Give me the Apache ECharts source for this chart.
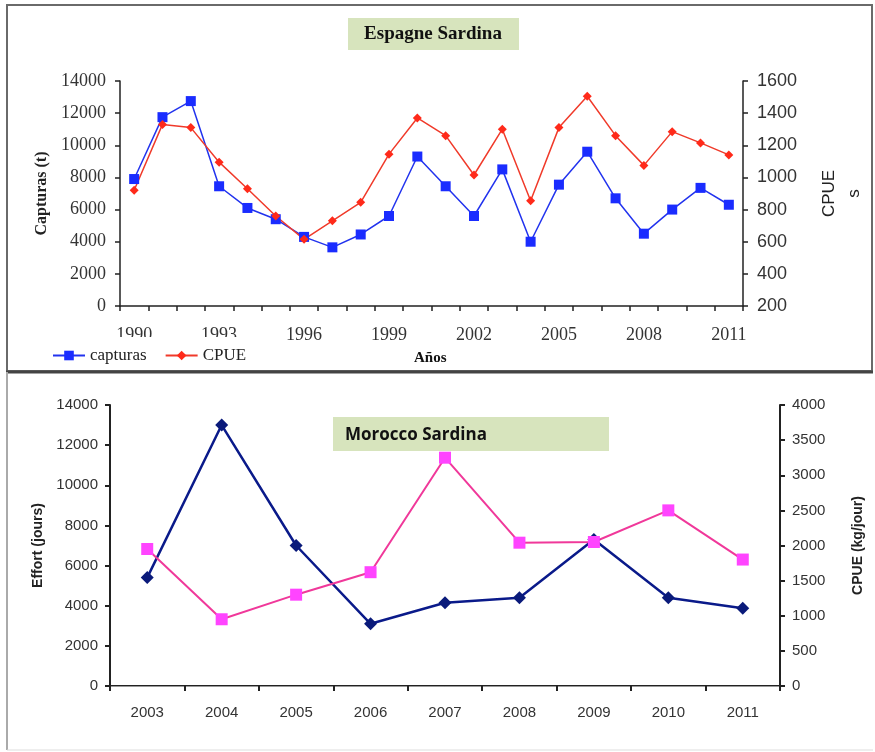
<!DOCTYPE html>
<html>
<head>
<meta charset="utf-8">
<script src="https://cdn.jsdelivr.net/npm/echarts@6/dist/echarts.min.js"></script>
<style>
html,body{margin:0;padding:0;background:#fff;}
#c{width:875px;height:752px;}
</style>
</head>
<body>
<div id="c"></div>
<script>
// ---- Espagne Sardina (top chart) ----
const yearsEsp = ['1990','1991','1992','1993','1994','1995','1996','1997','1998','1999','2000','2001','2002','2003','2004','2005','2006','2007','2008','2009','2010','2011'];
const capturas = [7900,11750,12750,7450,6100,5400,4300,3650,4450,5600,9300,7450,5600,8500,4000,7550,9600,6700,4500,6000,7350,6300];
const cpueEsp = [920,1330,1310,1095,930,760,615,730,845,1145,1370,1260,1015,1300,855,1310,1505,1260,1075,1285,1215,1140];

// ---- Morocco Sardina (bottom chart) ----
const yearsMar = ['2003','2004','2005','2006','2007','2008','2009','2010','2011'];
const effort = [5400,13000,7000,3100,4150,4400,7300,4400,3870];
const cpueMar = [1950,950,1300,1620,3250,2040,2050,2500,1800];

const serif = '"Liberation Serif", "Times New Roman", serif';
const sans = '"Liberation Sans", Arial, sans-serif';
const plain = function (v) { return String(v); };

const chart = echarts.init(document.getElementById('c'), null, {renderer: 'canvas'});

const option = {
  animation: false,
  backgroundColor: '#fff',
  grid: [
    {left: 120, right: 129, top: 81, height: 225, containLabel: false},
    {left: 110, right: 95, top: 405, height: 281, containLabel: false}
  ],
  legend: {
    left: 50, top: 337,
    padding: [10, 6, 4, 2],
    backgroundColor: '#fff',
    itemGap: 18, itemWidth: 32, itemHeight: 12,
    data: ['capturas', 'CPUE'],
    textStyle: {fontFamily: serif, fontSize: 17, color: '#222'}
  },
  xAxis: [
    {
      type: 'category', gridIndex: 0, data: yearsEsp, boundaryGap: true,
      axisLine: {lineStyle: {color: '#222', width: 1.5}},
      axisTick: {show: true, interval: 0, length: 5, lineStyle: {color: '#222', width: 1.5}},
      axisLabel: {interval: 2, margin: 20, fontFamily: serif, fontSize: 18, color: '#333'}
    },
    {
      type: 'category', gridIndex: 1, data: yearsMar, boundaryGap: true,
      axisLine: {lineStyle: {color: '#222', width: 2}},
      axisTick: {show: true, interval: 0, length: 5, lineStyle: {color: '#222', width: 2}},
      axisLabel: {margin: 19, fontFamily: sans, fontSize: 15, color: '#333'}
    },
    {
      type: 'category', gridIndex: 1, data: yearsMar, position: 'top',
      axisLine: {lineStyle: {color: '#999', width: 1}},
      axisTick: {show: false}, axisLabel: {show: false}
    }
  ],
  yAxis: [
    {
      type: 'value', gridIndex: 0, min: 0, max: 14000, interval: 2000,
      name: 'Capturas (t)', nameLocation: 'middle', nameGap: 67,
      nameTextStyle: {fontFamily: serif, fontSize: 16, fontWeight: 'bold', color: '#222'},
      axisLine: {show: true, lineStyle: {color: '#222', width: 1.5}},
      axisTick: {show: true, length: 5, lineStyle: {color: '#222', width: 1.5}},
      axisLabel: {margin: 14, fontFamily: serif, fontSize: 18, color: '#333', formatter: plain},
      splitLine: {show: false}
    },
    {
      type: 'value', gridIndex: 0, min: 200, max: 1600, interval: 200, position: 'right',
      name: 'CPUE\ns', nameLocation: 'middle', nameGap: 74,
      nameTextStyle: {fontFamily: sans, fontSize: 17, color: '#222', lineHeight: 25},
      axisLine: {show: true, lineStyle: {color: '#222', width: 1.5}},
      axisTick: {show: true, length: 5, lineStyle: {color: '#222', width: 1.5}},
      axisLabel: {margin: 14, fontFamily: sans, fontSize: 18, color: '#333', formatter: plain},
      splitLine: {show: false}
    },
    {
      type: 'value', gridIndex: 1, min: 0, max: 14000, interval: 2000,
      name: 'Effort (jours)', nameLocation: 'middle', nameGap: 63,
      nameTextStyle: {fontFamily: sans, fontSize: 14, fontWeight: 'bold', color: '#222'},
      axisLine: {show: true, lineStyle: {color: '#222', width: 2}},
      axisTick: {show: true, length: 5, lineStyle: {color: '#222', width: 2}},
      axisLabel: {margin: 12, fontFamily: sans, fontSize: 15, color: '#333', formatter: plain},
      splitLine: {show: false}
    },
    {
      type: 'value', gridIndex: 1, min: 0, max: 4000, interval: 500, position: 'right',
      name: 'CPUE (kg/jour)', nameLocation: 'middle', nameGap: 71,
      nameTextStyle: {fontFamily: sans, fontSize: 14, fontWeight: 'bold', color: '#222'},
      axisLine: {show: true, lineStyle: {color: '#222', width: 2}},
      axisTick: {show: true, length: 5, lineStyle: {color: '#222', width: 2}},
      axisLabel: {margin: 12, fontFamily: sans, fontSize: 15, color: '#333', formatter: plain},
      splitLine: {show: false}
    }
  ],
  series: [
    {
      name: 'capturas', type: 'line', xAxisIndex: 0, yAxisIndex: 0, data: capturas,
      symbol: 'rect', symbolSize: 10,
      lineStyle: {color: '#2233ee', width: 1.5},
      itemStyle: {color: '#1a2cff'}
    },
    {
      name: 'CPUE', type: 'line', xAxisIndex: 0, yAxisIndex: 1, data: cpueEsp,
      symbol: 'diamond', symbolSize: 9,
      lineStyle: {color: '#f03a2a', width: 1.5},
      itemStyle: {color: '#ff2a1a'}
    },
    {
      name: 'Effort', type: 'line', xAxisIndex: 1, yAxisIndex: 2, data: effort,
      symbol: 'diamond', symbolSize: 13,
      lineStyle: {color: '#0a1a8a', width: 2.5},
      itemStyle: {color: '#0a1a7a'}
    },
    {
      name: 'CPUE Maroc', type: 'line', xAxisIndex: 1, yAxisIndex: 3, data: cpueMar,
      symbol: 'rect', symbolSize: 12,
      lineStyle: {color: '#f0389a', width: 2},
      itemStyle: {color: '#ff44ff'}
    }
  ],
  graphic: [
    // frames
    {type: 'rect', shape: {x: 7, y: 5, width: 865, height: 366}, style: {fill: 'none', stroke: '#6a6a6a', lineWidth: 2}, z: 0},
    {type: 'line', shape: {x1: 6, y1: 372, x2: 873, y2: 372}, style: {stroke: '#444', lineWidth: 3}, z: 0},
    {type: 'line', shape: {x1: 7, y1: 372, x2: 7, y2: 750}, style: {stroke: '#aaa', lineWidth: 2}, z: 0},
    {type: 'line', shape: {x1: 7, y1: 750, x2: 873, y2: 750}, style: {stroke: '#ddd', lineWidth: 1}, z: 0},
    // top title box
    {type: 'rect', shape: {x: 348, y: 18, width: 171, height: 32}, style: {fill: '#d7e4bd'}, z: 1},
    {type: 'text', x: 433, y: 34, style: {text: 'Espagne Sardina', fontFamily: serif, fontSize: 19, fontWeight: 'bold', fill: '#111', align: 'center', verticalAlign: 'middle'}, z: 2},
    // x axis name
    {type: 'text', x: 414, y: 358, style: {text: 'Años', fontFamily: serif, fontSize: 15, fontWeight: 'bold', fill: '#111', align: 'left', verticalAlign: 'middle'}, z: 10},
    // bottom title box
    {type: 'rect', shape: {x: 333, y: 417, width: 276, height: 34}, style: {fill: '#d7e4bd'}, z: 1},
    {type: 'text', x: 345, y: 435, style: {text: 'Morocco Sardina', fontFamily: '"Open Sans", sans-serif', fontSize: 17, fontWeight: 'bold', fill: '#111', align: 'left', verticalAlign: 'middle'}, z: 2}
  ]
};
chart.setOption(option);
</script>
</body>
</html>
